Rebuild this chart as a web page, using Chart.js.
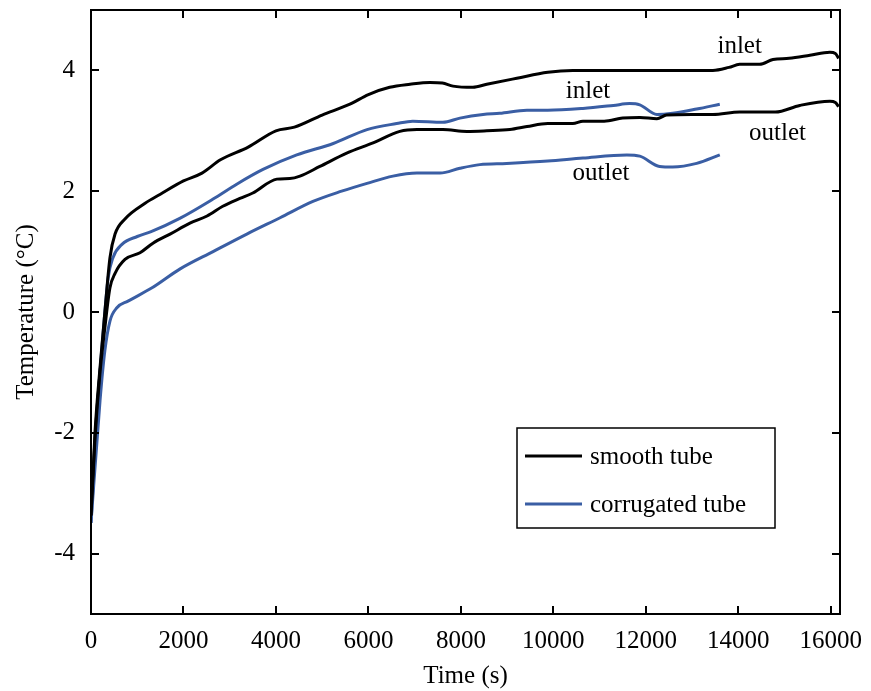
<!DOCTYPE html>
<html>
<head>
<meta charset="utf-8">
<script src="https://cdn.jsdelivr.net/npm/chart.js@4.4.1/dist/chart.umd.min.js"></script>
<style>
  html, body { margin: 0; padding: 0; background: #fff; }
</style>
</head>
<body>
<canvas id="tempchart" width="871" height="691"></canvas>
<script>
// time (s) / temperature (degC) readings for each run
var smoothInletTime = [0, 86, 195, 300, 410, 520, 735, 1170, 1500, 2000, 2400, 2800, 3400, 4000, 4400, 5000, 5600, 6000, 6460, 6900, 7330, 7600, 7830, 8260, 8560, 9210, 9880, 10420, 11000, 12000, 13450, 13800, 14030, 14460, 14750, 15100, 15550, 15980, 16100, 16170];
var smoothInletTemp = [-3.37, -2.0, -0.92, 0.0, 0.9, 1.29, 1.54, 1.8, 1.95, 2.17, 2.3, 2.52, 2.73, 3.0, 3.06, 3.26, 3.44, 3.6, 3.72, 3.77, 3.8, 3.79, 3.74, 3.72, 3.77, 3.87, 3.97, 4.0, 4.0, 4.0, 4.0, 4.05, 4.1, 4.1, 4.18, 4.2, 4.25, 4.3, 4.28, 4.2];

var smoothOutletTime = [0, 86, 195, 300, 410, 520, 735, 1060, 1340, 1710, 2140, 2510, 2850, 3220, 3500, 4020, 4300, 4520, 4950, 5530, 6100, 6680, 7050, 7610, 8130, 8560, 9060, 9430, 9880, 10420, 10640, 11100, 11500, 11870, 12240, 12450, 13000, 13450, 14030, 14800, 15330, 15980, 16100, 16170];
var smoothOutletTemp = [-3.37, -2.1, -1.0, -0.26, 0.4, 0.64, 0.87, 0.98, 1.14, 1.29, 1.47, 1.59, 1.75, 1.88, 1.97, 2.2, 2.21, 2.25, 2.41, 2.63, 2.8, 2.99, 3.02, 3.02, 2.99, 3.0, 3.02, 3.07, 3.12, 3.12, 3.16, 3.16, 3.21, 3.22, 3.2, 3.26, 3.27, 3.27, 3.31, 3.31, 3.42, 3.49, 3.47, 3.4];

var corrInletTime = [0, 150, 260, 370, 475, 670, 1000, 1300, 1920, 2640, 3160, 3720, 4450, 5240, 5970, 6610, 6960, 7610, 7980, 8480, 8840, 9430, 9880, 10640, 11300, 11650, 11870, 12240, 12580, 13100, 13600];
var corrInletTemp = [-3.49, -1.47, -0.37, 0.56, 0.9, 1.12, 1.25, 1.33, 1.55, 1.87, 2.12, 2.36, 2.6, 2.79, 3.02, 3.12, 3.16, 3.14, 3.21, 3.27, 3.29, 3.34, 3.34, 3.37, 3.42, 3.45, 3.43, 3.27, 3.29, 3.36, 3.44];

var corrOutletTime = [0, 195, 300, 410, 560, 800, 1320, 1920, 2640, 3370, 4090, 4800, 5420, 5970, 6530, 7050, 7550, 7980, 8410, 8990, 9880, 10640, 11590, 11870, 12300, 12580, 13100, 13600];
var corrOutletTemp = [-3.49, -1.47, -0.64, -0.15, 0.07, 0.18, 0.4, 0.71, 1.0, 1.29, 1.56, 1.83, 2.0, 2.13, 2.25, 2.3, 2.3, 2.38, 2.44, 2.46, 2.5, 2.55, 2.6, 2.58, 2.41, 2.4, 2.46, 2.6];

var xTicks = [0, 2000, 4000, 6000, 8000, 10000, 12000, 14000, 16000];
var yTicks = [-4, -2, 0, 2, 4];

var legendLabels = ['smooth tube', 'corrugated tube'];
var smoothColor = '#000000';
var corrColor = '#3a5ea4';

// text labels placed at data coordinates
var noteText = ['inlet', 'inlet', 'outlet', 'outlet'];
var noteTime = [14030, 10750, 14850, 11030];
var noteTemp = [4.4, 3.65, 2.96, 2.3];

var FONT = '"Liberation Serif", "Times New Roman", serif';
var FSIZE = 25;

function toPoints(xs, ys) {
    return xs.map(function (x, i) { return { x: x, y: ys[i] }; });
}

function lineSet(label, xs, ys, color) {
    return {
        label: label,
        data: toPoints(xs, ys),
        borderColor: color,
        backgroundColor: color,
        borderWidth: 3,
        pointRadius: 0,
        showLine: true,
        fill: false,
        cubicInterpolationMode: 'monotone'
    };
}

// keep the plot box fixed: no extra room for edge labels
function fixPadding(scale) {
    scale.paddingTop = 0;
    scale.paddingBottom = 0;
    scale.paddingLeft = 0;
    scale.paddingRight = 0;
}

// box frame with inward ticks on all four sides, notes and legend
var framePlugin = {
    id: 'frame',
    afterDatasetsDraw: function (chart) {
        var ctx = chart.ctx;
        var a = chart.chartArea;
        var xs = chart.scales.x;
        var ys = chart.scales.y;
        var tl = 8;
        ctx.save();
        ctx.strokeStyle = '#000';
        ctx.lineWidth = 2;
        ctx.strokeRect(a.left, a.top, a.right - a.left, a.bottom - a.top);
        ctx.beginPath();
        xTicks.forEach(function (v) {
            var px = Math.round(xs.getPixelForValue(v));
            ctx.moveTo(px, a.bottom); ctx.lineTo(px, a.bottom - tl);
            ctx.moveTo(px, a.top); ctx.lineTo(px, a.top + tl);
        });
        yTicks.forEach(function (v) {
            var py = Math.round(ys.getPixelForValue(v));
            ctx.moveTo(a.left, py); ctx.lineTo(a.left + tl, py);
            ctx.moveTo(a.right, py); ctx.lineTo(a.right - tl, py);
        });
        ctx.stroke();

        ctx.fillStyle = '#000';
        ctx.font = FSIZE + 'px ' + FONT;
        ctx.textAlign = 'center';
        ctx.textBaseline = 'middle';
        noteText.forEach(function (t, i) {
            ctx.fillText(t, xs.getPixelForValue(noteTime[i]), ys.getPixelForValue(noteTemp[i]));
        });

        // legend
        var lx = 517, ly = 428, lw = 258, lh = 100;
        ctx.fillStyle = '#fff';
        ctx.fillRect(lx, ly, lw, lh);
        ctx.lineWidth = 1.5;
        ctx.strokeRect(lx, ly, lw, lh);
        var colors = [smoothColor, corrColor];
        var rows = [456, 504];
        ctx.textAlign = 'left';
        legendLabels.forEach(function (t, i) {
            ctx.strokeStyle = colors[i];
            ctx.lineWidth = 3;
            ctx.beginPath();
            ctx.moveTo(lx + 8, rows[i]);
            ctx.lineTo(lx + 65, rows[i]);
            ctx.stroke();
            ctx.fillStyle = '#000';
            ctx.fillText(t, lx + 73, rows[i] + 1);
        });
        ctx.restore();
    }
};

var chart1 = document.getElementById('tempchart');

var myChart1 = new Chart(chart1, {
    type: 'scatter',
    data: {
        datasets: [
            lineSet('smooth tube inlet', smoothInletTime, smoothInletTemp, smoothColor),
            lineSet('smooth tube outlet', smoothOutletTime, smoothOutletTemp, smoothColor),
            lineSet('corrugated tube inlet', corrInletTime, corrInletTemp, corrColor),
            lineSet('corrugated tube outlet', corrOutletTime, corrOutletTemp, corrColor)
        ]
    },
    options: {
        responsive: false,
        animation: false,
        layout: {
            padding: { left: 0, right: 31, top: 10, bottom: 0 }
        },
        scales: {
            x: {
                type: 'linear',
                min: 0,
                max: 16200,
                grid: { display: false, drawTicks: false },
                border: { display: false },
                afterBuildTicks: function (scale) {
                    scale.ticks = xTicks.map(function (v) { return { value: v }; });
                },
                afterFit: function (scale) { scale.height = 77; fixPadding(scale); },
                ticks: {
                    color: '#000',
                    padding: 12,
                    maxRotation: 0,
                    autoSkip: false,
                    font: { family: FONT, size: FSIZE },
                    callback: function (v) { return String(v); }
                },
                title: {
                    display: true,
                    text: 'Time (s)',
                    color: '#000',
                    padding: { top: 0, bottom: 0 },
                    font: { family: FONT, size: FSIZE }
                }
            },
            y: {
                type: 'linear',
                min: -5,
                max: 5,
                grid: { display: false, drawTicks: false },
                border: { display: false },
                afterBuildTicks: function (scale) {
                    scale.ticks = yTicks.map(function (v) { return { value: v }; });
                },
                afterFit: function (scale) { scale.width = 91; fixPadding(scale); },
                ticks: {
                    color: '#000',
                    padding: 16,
                    font: { family: FONT, size: FSIZE },
                    callback: function (v) { return String(v); }
                },
                title: {
                    display: true,
                    text: 'Temperature (°C)',
                    color: '#000',
                    padding: { top: 11, bottom: 0 },
                    font: { family: FONT, size: FSIZE }
                }
            }
        },
        plugins: {
            legend: { display: false },
            tooltip: { enabled: false }
        }
    },
    plugins: [framePlugin]
});
</script>
</body>
</html>
